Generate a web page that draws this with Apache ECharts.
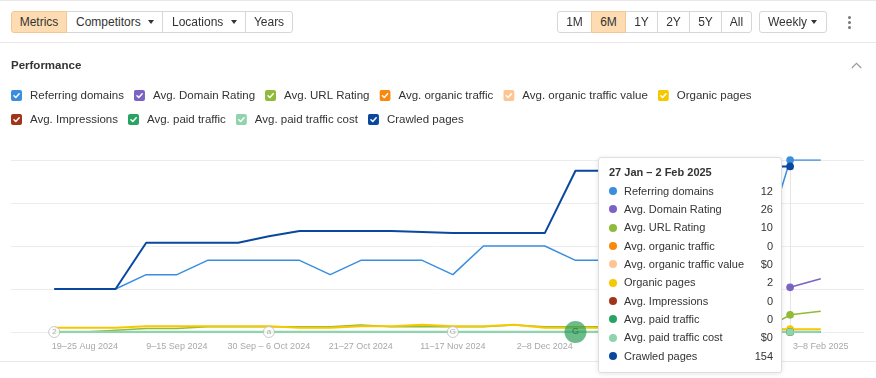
<!DOCTYPE html>
<html><head><meta charset="utf-8">
<script src="https://cdn.jsdelivr.net/npm/echarts@6/dist/echarts.min.js"></script>
<style>
body{margin:0;background:#fff;font-family:'Liberation Sans',Arial,sans-serif;}
#wrap{position:relative;width:876px;height:378px;overflow:hidden;background:#fff;}
#chart{position:absolute;left:0;top:0;width:876px;height:378px;}
.hl{position:absolute;left:0;width:876px;height:1px;background:#e8e8e8;z-index:1}
.btn{position:absolute;top:11px;height:22px;box-sizing:border-box;border:1px solid #d6d6d6;font-size:12px;line-height:20px;color:#333;text-align:center;background:#fff;z-index:2;white-space:nowrap}
.on{background:#fddcb2;border-color:#f1c895;z-index:3}
.tri{position:absolute;top:8px;width:0;height:0;border-left:3.5px solid transparent;border-right:3.5px solid transparent;border-top:4px solid #333;}
.dot{position:absolute;left:848px;width:3px;height:3px;border-radius:50%;background:#777;z-index:2}
</style></head>
<body>
<div id="wrap">
  <div id="chart"></div>
  <div class="hl" style="top:0"></div>
  <div class="hl" style="top:42px"></div>
  <div class="hl" style="top:361px"></div>
  <div class="btn on" style="left:11px;width:56px;border-radius:3px 0 0 3px">Metrics</div>
  <div class="btn" style="left:66px;width:97px;text-align:left;padding-left:9px">Competitors<span class="tri" style="left:81px"></span></div>
  <div class="btn" style="left:162px;width:84px;text-align:left;padding-left:9px">Locations<span class="tri" style="left:68px"></span></div>
  <div class="btn" style="left:245px;width:48px;border-radius:0 3px 3px 0">Years</div>
  <div class="btn" style="left:557px;width:35px;border-radius:3px 0 0 3px">1M</div>
  <div class="btn on" style="left:591px;width:35px">6M</div>
  <div class="btn" style="left:625px;width:33px">1Y</div>
  <div class="btn" style="left:657px;width:33px">2Y</div>
  <div class="btn" style="left:689px;width:33px">5Y</div>
  <div class="btn" style="left:721px;width:31px;border-radius:0 3px 3px 0">All</div>
  <div class="btn" style="left:759px;width:68px;border-radius:3px;text-align:left;padding-left:8px">Weekly<span class="tri" style="left:51px"></span></div>
  <div class="dot" style="top:16px"></div>
  <div class="dot" style="top:21px"></div>
  <div class="dot" style="top:26px"></div>
  <svg style="position:absolute;left:851px;top:62px;z-index:2" width="11" height="7"><polyline points="0.8,6 5.5,1.3 10.2,6" fill="none" stroke="#9a9a9a" stroke-width="1.2"/></svg>
</div>
<script>
// ---------------- data ----------------
const weeks = ['12–18 Aug 2024','19–25 Aug 2024','26 Aug – 1 Sep 2024','2–8 Sep 2024','9–15 Sep 2024','16–22 Sep 2024','23–29 Sep 2024','30 Sep – 6 Oct 2024','7–13 Oct 2024','14–20 Oct 2024','21–27 Oct 2024','28 Oct – 3 Nov 2024','4–10 Nov 2024','11–17 Nov 2024','18–24 Nov 2024','25 Nov – 1 Dec 2024','2–8 Dec 2024','9–15 Dec 2024','16–22 Dec 2024','23–29 Dec 2024','30 Dec 2024 – 5 Jan 2025','6–12 Jan 2025','13–19 Jan 2025','20–26 Jan 2025','27 Jan – 2 Feb 2025','3–8 Feb 2025'];
const tickIdx = [1,4,7,10,13,16,19,22,25];

const referringDomains = [3,3,3,4,4,5,5,5,5,4,5,5,5,4,6,6,6,5,5,5,5,5,5,5,12,12];
const domainRating     = [null,null,null,null,null,null,null,null,null,null,null,null,null,null,null,null,null,null,null,null,null,null,null,null,26,31];
const urlRating        = [0,0,1,2,2,3,3,3,3,3,4,3,3,3,3,4,3,3,3,2,2,1,1,0,10,12];
const organicTraffic   = [0,0,0,0,0,0,0,0,0,0,0,0,0,0,0,0,0,0,0,0,0,0,0,0,0,0];
const organicValue     = [0,0,0,0,0,0,0,0,0,0,0,0,0,0,0,0,0,0,0,0,0,0,0,0,0,0];
const organicPages     = [3,3,3,4,4,4,4,4,3,3,4,4,5,4,4,5,3,3,3,2,2,2,2,2,2,2];
const impressions      = [0,0,0,0,0,0,0,0,0,0,0,0,0,0,0,0,0,0,0,0,0,0,0,0,0,0];
const paidTraffic      = [0,0,0,0,0,0,0,0,0,0,0,0,0,0,0,0,0,0,0,0,0,0,0,0,0,0];
const paidCost         = [0,0,0,0,0,0,0,0,0,0,0,0,0,0,0,0,0,0,0,0,0,0,0,0,0,0];
const crawledPages     = [40,40,40,83,83,83,83,89,94,94,94,94,93,92,92,92,92,150,150,151,152,153,154,154,154,null];

const hoverIdx = 24;
const markerIdx  = [0,7,13,17];
const markerText = ['2','a','G','G'];

const legendRow1 = ['Referring domains','Avg. Domain Rating','Avg. URL Rating','Avg. organic traffic','Avg. organic traffic value','Organic pages'];
const legendRow2 = ['Avg. Impressions','Avg. paid traffic','Avg. paid traffic cost','Crawled pages'];

// ---------------- config ----------------
const defs = [
  {name:'Referring domains',          color:'#3a8ee0', data:referringDomains, y:0, w:1.5, pre:''},
  {name:'Avg. Domain Rating',         color:'#7b62c4', data:domainRating,     y:1, w:1.5, pre:''},
  {name:'Avg. URL Rating',            color:'#90ba3a', data:urlRating,        y:1, w:1.5, pre:''},
  {name:'Avg. organic traffic',       color:'#f8890c', data:organicTraffic,   y:1, w:2,   pre:''},
  {name:'Avg. organic traffic value', color:'#fec592', data:organicValue,     y:1, w:2,   pre:'$'},
  {name:'Organic pages',              color:'#f6c800', data:organicPages,     y:3, w:2,   pre:''},
  {name:'Avg. Impressions',           color:'#a2341a', data:impressions,      y:1, w:2,   pre:''},
  {name:'Avg. paid traffic',          color:'#27a462', data:paidTraffic,      y:1, w:2,   pre:''},
  {name:'Avg. paid traffic cost',     color:'#8fd4ad', data:paidCost,         y:1, w:2.5, pre:'$'},
  {name:'Crawled pages',              color:'#0a48a0', data:crawledPages,     y:2, w:2,   pre:''}
];
const colorOf = n => defs.find(d => d.name === n).color;
const FONT = "'Liberation Sans', Arial, sans-serif";

function checkIcon(color){
  const svg = '<svg xmlns="http://www.w3.org/2000/svg" width="14" height="11" viewBox="0 0 14 11">' +
    '<rect x="0" y="0" width="11" height="11" rx="2" fill="' + color + '"/>' +
    '<path d="M3 5.7 L4.8 7.5 L8.2 3.8" stroke="#fff" stroke-width="1.5" fill="none" stroke-linecap="round" stroke-linejoin="round"/></svg>';
  return 'image://data:image/svg+xml;charset=utf-8,' + encodeURIComponent(svg);
}

const legendBase = {left:11, padding:0, itemWidth:14, itemHeight:11, itemGap:10, orient:'horizontal',
  textStyle:{fontSize:11.5, color:'#333', fontFamily:FONT}};

const chart = echarts.init(document.getElementById('chart'), null, {renderer:'canvas'});
const option = {
  animation:false,
  title:{text:'Performance', left:11, top:60, padding:0, textStyle:{fontSize:11.5, fontWeight:'bold', color:'#333', fontFamily:FONT}},
  legend:[
    Object.assign({}, legendBase, {top:89.5, data: legendRow1.map(n => ({name:n, icon:checkIcon(colorOf(n))}))}),
    Object.assign({}, legendBase, {top:113.5, data: legendRow2.map(n => ({name:n, icon:checkIcon(colorOf(n))}))})
  ],
  grid:{left:11, right:12, top:160, bottom:46, containLabel:false, outerBoundsMode:'none'},
  xAxis:{type:'value', min:-1.41, max:26.41,
    splitLine:{show:false}, axisLine:{show:false}, axisTick:{show:false},
    axisLabel:{customValues:tickIdx, formatter: v => weeks[Math.round(v)] || '', color:'#a8a8a8', fontSize:9, fontFamily:FONT, margin:10}},
  yAxis:[
    {type:'value', min:0, max:12, interval:3, axisLabel:{show:false}, axisLine:{show:false}, axisTick:{show:false}, splitLine:{show:true, lineStyle:{color:'#ececec', width:1}}},
    {type:'value', min:0, max:100, show:false, splitLine:{show:false}},
    {type:'value', min:0, max:160, show:false, splitLine:{show:false}},
    {type:'value', min:0, max:120, show:false, splitLine:{show:false}}
  ],
  tooltip:{
    trigger:'axis', triggerOn:'none', alwaysShowContent:true, position:[598,157], transitionDuration:0,
    backgroundColor:'#fff', borderColor:'#dedede', borderWidth:1, padding:[7,8,7,10],
    extraCssText:'box-shadow:0 1px 5px rgba(0,0,0,0.10);border-radius:3px;',
    axisPointer:{type:'line', animation:false, z:1, lineStyle:{color:'#e6e6e6', width:1, type:'solid'}},
    formatter: function(params){
      let i = hoverIdx;
      const p = (params || []).find(q => q.seriesName === defs[0].name);
      if (p) i = p.dataIndex;
      let h = '<div style="width:164px;font-family:' + FONT.replace(/'/g,'&#39;') + ';color:#333">';
      h += '<div style="font-weight:bold;font-size:11px;line-height:15px;margin-bottom:2px">' + weeks[i] + '</div>';
      defs.forEach(d => {
        const v = d.data[i];
        h += '<div style="display:flex;align-items:center;height:18.33px;font-size:11px">' +
             '<span style="display:inline-block;width:8px;height:8px;border-radius:50%;background:' + d.color + ';margin-right:7px"></span>' +
             '<span style="flex:1">' + d.name + '</span>' +
             '<span>' + (v == null ? '–' : d.pre + v) + '</span></div>';
      });
      return h + '</div>';
    }
  },
  series: defs.map(d => ({
    type:'line', name:d.name, yAxisIndex:d.y, z:3,
    data: d.data.map((v,i) => [i, v]),
    showSymbol:true, showAllSymbol:true, symbol:'circle',
    symbolSize: (val, prm) => prm.dataIndex === hoverIdx ? 7 : 0,
    lineStyle:{width:d.w, color:d.color}, itemStyle:{color:d.color},
    emphasis:{disabled:true},
    connectNulls:false
  })).concat([{
    type:'scatter', name:'annotations', yAxisIndex:0, clip:false, silent:true, z:6,
    tooltip:{show:false}, emphasis:{disabled:true},
    data: markerIdx.map((x,k) => {
      const big = k === markerIdx.length - 1;
      return {
        value:[x, 0],
        symbolSize: big ? 22 : 11,
        itemStyle: big ? {color:'rgba(46,160,90,0.88)', borderWidth:0} : {color:'#fff', borderColor:'#bdbdbd', borderWidth:1},
        label:{show:true, position:'inside', formatter: markerText[k], fontSize: big ? 9 : 8,
               color: big ? '#1e6d3e' : '#9a9a9a', fontFamily:FONT}
      };
    })
  }])
};
chart.setOption(option);
chart.dispatchAction({type:'showTip', seriesIndex:0, dataIndex:hoverIdx});
</script>
</body></html>
